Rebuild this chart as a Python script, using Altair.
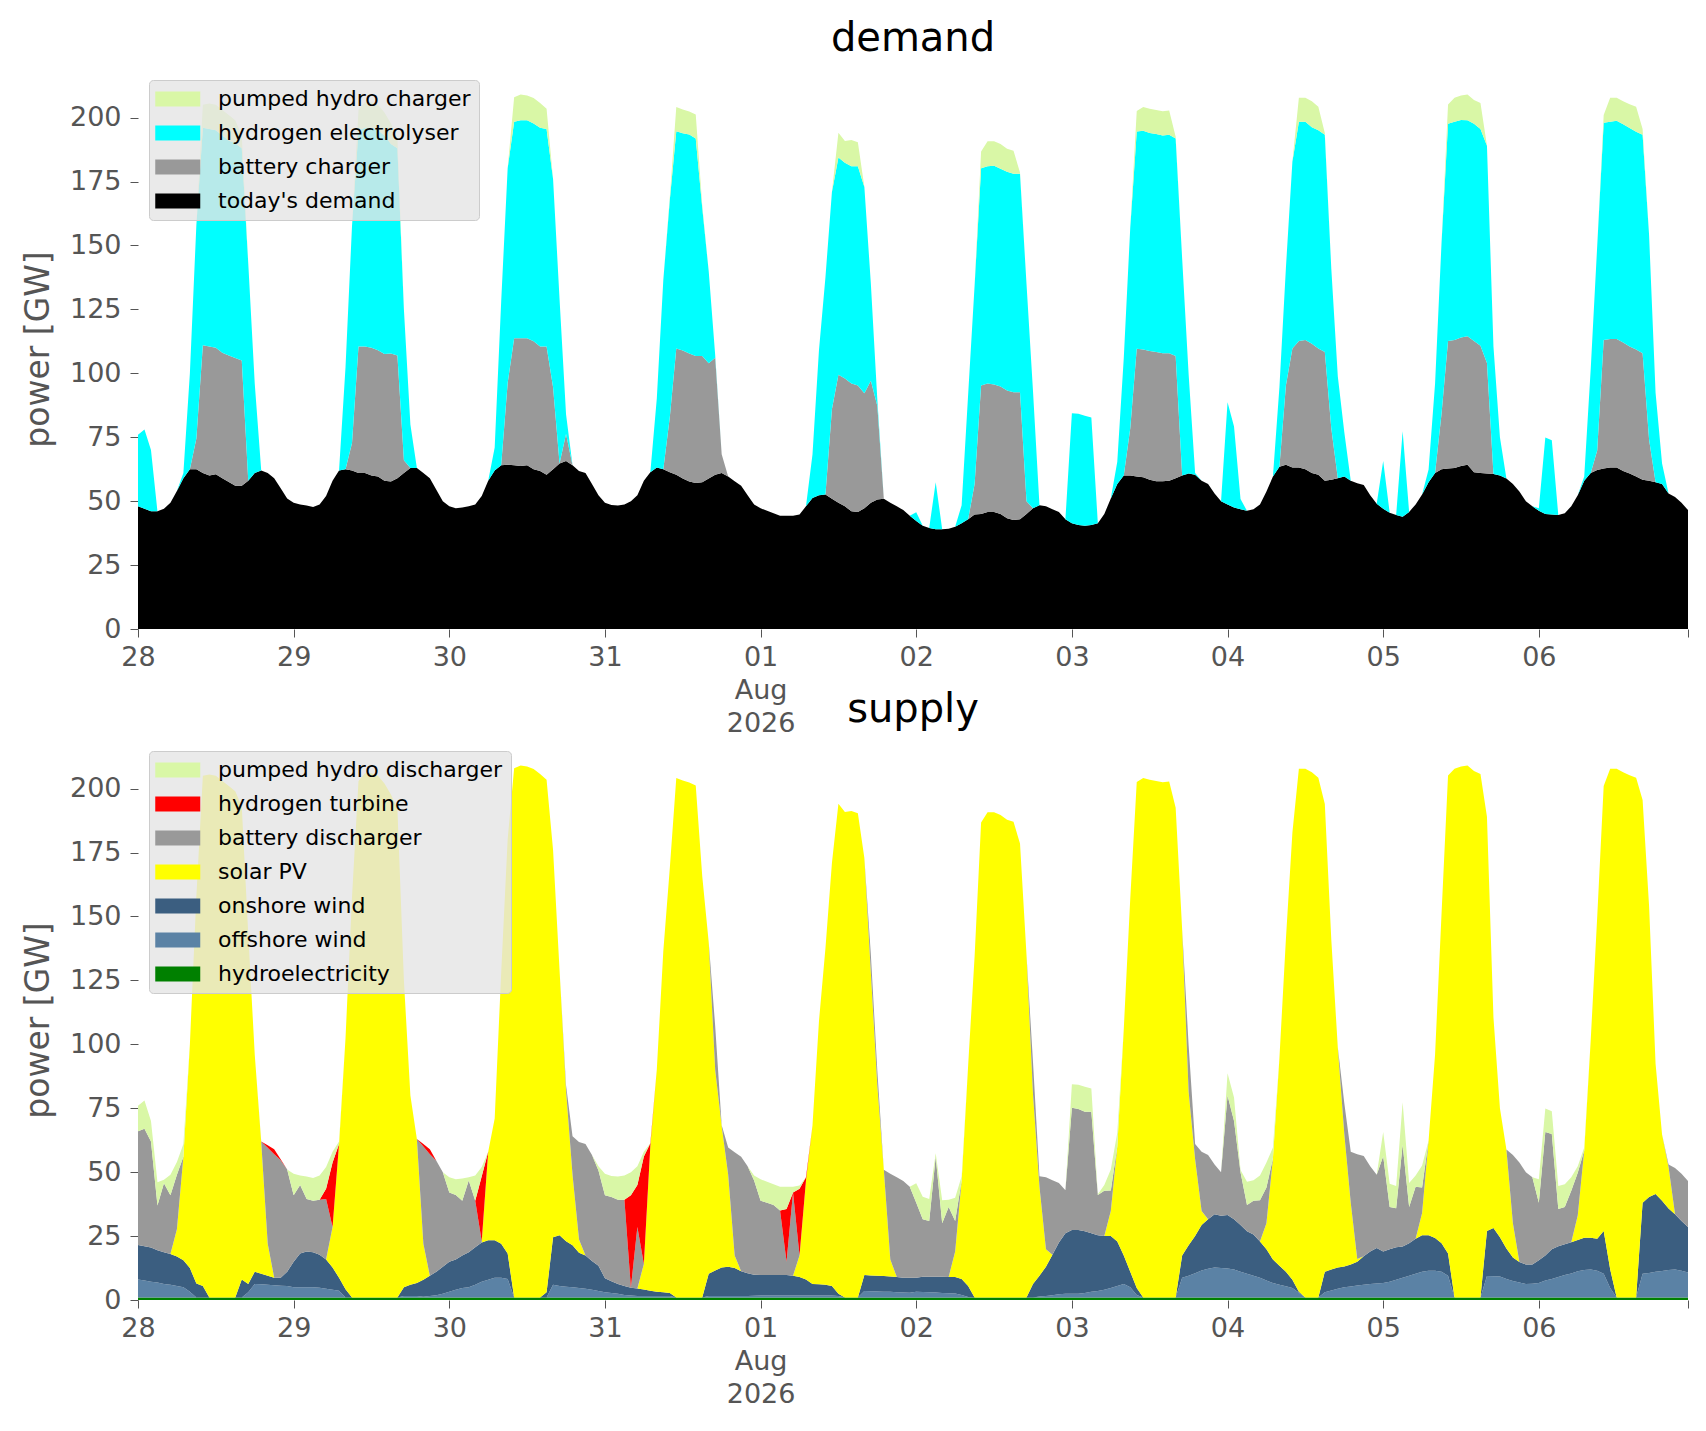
import pandas as pd
import altair as alt

days = ["2026-07-28", "2026-07-29", "2026-07-30", "2026-07-31", "2026-08-01",
        "2026-08-02", "2026-08-03", "2026-08-04", "2026-08-05", "2026-08-06"]

# ---- demand side [GW], one list of 24 hourly values per day
todays_demand = [
    [48, 47, 46, 46, 47, 49.4, 54, 59, 62.5, 62.5, 61, 60, 60.5, 59, 57.5, 56, 56, 58, 61, 62, 61, 59, 55, 51],
    [49.4, 48.7, 48.3, 47.7, 48.7, 52, 58, 62, 62.5, 62, 61, 61, 60, 59.6, 58, 57.7, 59, 61, 63, 63, 61, 59, 54.5, 50],
    [48, 47.2, 47.5, 48, 48.7, 52, 58, 62, 64, 64.2, 64, 63.7, 64, 62.5, 61.8, 60.3, 62.5, 64.7, 65.7, 64, 61.8, 61, 56.7, 52.3],
    [49.4, 48.5, 48.3, 48.7, 50, 52.3, 58, 61.3, 63.2, 62.5, 61.3, 60.3, 58.9, 57.7, 57.1, 57.4, 58.9, 60.3, 61, 59.6, 57.8, 56, 52.3, 48.7],
    [47.2, 46.2, 45.3, 44.3, 44.3, 44.3, 44.8, 48, 51.2, 52.3, 52.6, 50.9, 49.4, 48, 46, 45.8, 47.2, 49.4, 50.6, 50.9, 49.4, 48, 46.5, 44.3],
    [42.2, 40.4, 39.5, 39, 39, 39.2, 40, 41.4, 42.9, 44.8, 45, 45.8, 45.8, 45, 43.3, 42.6, 42.9, 45, 47.2, 48.4, 48, 46.8, 45.8, 42.9],
    [41.4, 40.7, 40.4, 40.7, 41.4, 45, 51, 56.7, 60, 60, 59.6, 59.3, 58.4, 57.8, 57.8, 58, 59, 60, 60.8, 60.3, 58, 56.7, 53, 50],
    [48.7, 47.5, 46.8, 46.2, 46.8, 48.7, 53.8, 59.6, 63.5, 64.2, 63.2, 63.2, 62.5, 61, 60.3, 58, 58.4, 59, 59.6, 58, 57, 56.3, 52.3, 49],
    [47, 45.5, 44.6, 43.9, 45.8, 48.7, 52.6, 57.4, 61, 62.5, 62.8, 63, 63.7, 64.2, 61.3, 61, 60.8, 60.6, 60, 58.9, 56.7, 53.8, 50, 48],
    [46.2, 45, 44.8, 44.6, 45.3, 48, 52.3, 58, 61, 62.2, 62.8, 63.2, 63.2, 61.8, 60.8, 59.6, 58.4, 58, 57.4, 56.7, 53, 51.6, 49.4, 46.5],
]
battery_charger = [
    [0, 0, 0, 0, 0, 0, 0, 0, 0, 12, 50, 50.5, 49.5, 49, 49.5, 50, 49, 0, 0, 0, 0, 0, 0, 0],
    [0, 0, 0, 0, 0, 0, 0, 0, 0, 10.7, 49.5, 49.5, 50, 49.4, 49.5, 50, 48, 5, 0, 0, 0, 0, 0, 0],
    [0, 0, 0, 0, 0, 0, 0, 0, 0, 32, 49.7, 50, 49.7, 50, 48.7, 50.2, 32, 0, 10.6, 0, 0, 0, 0, 0],
    [0, 0, 0, 0, 0, 0, 0, 0, 0, 0, 21.5, 49.4, 50, 50, 49.7, 49.4, 45, 45.8, 7.3, 0, 0, 0, 0, 0],
    [0, 0, 0, 0, 0, 0, 0, 0, 0, 0, 0, 35, 50, 50, 50, 49.4, 45, 47.7, 36.6, 0, 0, 0, 0, 0],
    [0, 0, 0, 0, 0, 0, 0, 0, 0, 11.9, 50.2, 50.2, 49.8, 49.8, 50, 50, 49.7, 5, 0, 0, 0, 0, 0, 0],
    [0, 0, 0, 0, 0, 0, 0, 0, 0, 18.5, 50, 50, 50.3, 50.5, 50, 49.8, 47.8, 0, 0, 0, 0, 0, 0, 0],
    [0, 0, 0, 0, 0, 0, 0, 0, 0, 31, 46.5, 49.4, 50.5, 50.6, 49.4, 50.3, 20, 0, 0, 0, 0, 0, 0, 0],
    [0, 0, 0, 0, 0, 0, 0, 0, 0, 21.8, 49.8, 50, 50.3, 50.3, 51.3, 49.8, 43.2, 0, 0, 0, 0, 0, 0, 0],
    [0, 0, 0, 0, 0, 0, 0, 0, 0, 7.6, 50.2, 50.2, 50.2, 50.2, 49.7, 49.7, 49.4, 16, 0, 0, 0, 0, 0, 0],
]
hydrogen_electrolyser = [
    [28, 31, 24, 0, 0, 0, 0, 2, 37.5, 83.5, 85, 85, 85, 85, 84, 84, 83, 85, 35, 0, 0, 0, 0, 0],
    [0, 0, 0, 0, 0, 0, 0, 0, 40, 85, 84.5, 85.5, 86, 86, 85.5, 82, 81, 59, 17, 0, 0, 0, 0, 0],
    [0, 0, 0, 0, 0, 0, 0, 9, 64, 84, 84.7, 85.3, 85.3, 85.2, 85.5, 85, 81.5, 64.3, 7.7, 0, 0, 0, 0, 0],
    [0, 0, 0, 0, 0, 0, 0, 0, 27, 74, 85, 85, 85, 85.7, 85, 58, 36, 1, 0, 0, 0, 0, 0, 0],
    [0, 0, 0, 0, 0, 0, 0, 0, 17, 56.7, 85, 85, 85, 84.3, 85, 85.8, 80.7, 38, 2.5, 0, 0, 0, 0, 0],
    [3.5, 0, 0, 18.4, 0, 0, 0, 7, 48.7, 77.7, 85, 85, 85.6, 85.2, 85.5, 85.4, 85.4, 85, 46, 0, 0, 0, 0, 0],
    [43, 43.5, 43, 42, 0, 0, 0, 8.7, 46, 78.5, 85, 85.6, 85.3, 85.3, 85.2, 85.5, 85, 85, 38.8, 0.7, 0, 0, 0, 0],
    [40, 31.7, 4, 0, 0, 0, 0, 0, 31, 46, 73, 85.8, 85.4, 84.6, 85.3, 85, 62.5, 39.8, 17.4, 0, 0, 0, 0, 0],
    [18.7, 0, 0, 33.4, 0, 0, 0, 5, 35, 66.9, 85, 85.4, 85.1, 84.5, 85, 84.7, 85, 50, 15, 0, 0, 0, 0, 0],
    [1, 29.9, 29, 0, 0, 0, 0, 1.6, 40.7, 80, 85, 85, 85.4, 85.4, 85.4, 85.2, 85.5, 80, 35, 8, 0, 0, 0, 0],
]
pumped_hydro_charger = [
    [0, 0, 0, 0, 0, 0, 0, 0, 0, 0, 9, 10, 10, 10, 10, 9, 5, 0, 0, 0, 0, 0, 0, 0],
    [0, 0, 0, 0, 0, 0, 0, 0, 0, 0, 8, 10, 10, 10, 9, 8, 4, 0, 0, 0, 0, 0, 0, 0],
    [0, 0, 0, 0, 0, 0, 0, 0, 0, 0, 9.6, 10, 9.6, 10, 9.7, 8, 0, 0, 0, 0, 0, 0, 0, 0],
    [0, 0, 0, 0, 0, 0, 0, 0, 0, 0, 1, 9.4, 9.3, 9, 9.4, 1, 0, 0, 0, 0, 0, 0, 0, 0],
    [0, 0, 0, 0, 0, 0, 0, 0, 0, 0, 0, 0, 9.7, 8.5, 10.2, 9.4, 0, 0, 0, 0, 0, 0, 0, 0],
    [0, 0, 0, 0, 0, 0, 0, 0, 0, 0, 6.5, 9.7, 9.5, 9.7, 9, 9, 0.5, 0, 0, 0, 0, 0, 0, 0],
    [0, 0, 0, 0, 0, 0, 0, 0, 0, 0, 8, 9.2, 9.5, 9.4, 9.5, 9.5, 0.7, 0, 0, 0, 0, 0, 0, 0],
    [0, 0, 0, 0, 0, 0, 0, 0, 0, 0, 0, 9.4, 9.4, 10.2, 9.2, 0.7, 0, 0, 0, 0, 0, 0, 0, 0],
    [0, 0, 0, 0, 0, 0, 0, 0, 0, 0, 7.5, 9.4, 9.5, 10, 9.3, 10.2, 0, 0, 0, 0, 0, 0, 0, 0],
    [0, 0, 0, 0, 0, 0, 0, 0, 0, 0, 3, 9.4, 9, 9, 9.3, 9.7, 2.2, 0, 0, 0, 0, 0, 0, 0],
]

# ---- supply side [GW]
hydroelectricity = [
    [1, 1, 1, 1, 1, 1, 1, 1, 1, 1, 1, 1, 1, 1, 1, 1, 1, 1, 1, 1, 1, 1, 1, 1],
    [1, 1, 1, 1, 1, 1, 1, 1, 1, 1, 1, 1, 1, 1, 1, 1, 1, 1, 1, 1, 1, 1, 1, 1],
    [1, 1, 1, 1, 1, 1, 1, 1, 1, 1, 1, 1, 1, 1, 1, 1, 1, 1, 1, 1, 1, 1, 1, 1],
    [1, 1, 1, 1, 1, 1, 1, 1, 1, 1, 1, 1, 1, 1, 1, 1, 1, 1, 1, 1, 1, 1, 1, 1],
    [1, 1, 1, 1, 1, 1, 1, 1, 1, 1, 1, 1, 1, 1, 1, 1, 1, 1, 1, 1, 1, 1, 1, 1],
    [1, 1, 1, 1, 1, 1, 1, 1, 1, 1, 1, 1, 1, 1, 1, 1, 1, 1, 1, 1, 1, 1, 1, 1],
    [1, 1, 1, 1, 1, 1, 1, 1, 1, 1, 1, 1, 1, 1, 1, 1, 1, 1, 1, 1, 1, 1, 1, 1],
    [1, 1, 1, 1, 1, 1, 1, 1, 1, 1, 1, 1, 1, 1, 1, 1, 1, 1, 1, 1, 1, 1, 1, 1],
    [1, 1, 1, 1, 1, 1, 1, 1, 1, 1, 1, 1, 1, 1, 1, 1, 1, 1, 1, 1, 1, 1, 1, 1],
    [1, 1, 1, 1, 1, 1, 1, 1, 1, 1, 1, 1, 1, 1, 1, 1, 1, 1, 1, 1, 1, 1, 1, 1],
]
offshore_wind = [
    [7, 6.6, 6.1, 5.8, 5.3, 5, 4.5, 4, 2.2, 0, 0, 0, 0, 0, 0, 0, 0, 2, 5.3, 5.2, 5, 4.8, 4.6, 4.5],
    [4, 4, 4, 4, 3.8, 3.4, 3, 2.6, 0, 0, 0, 0, 0, 0, 0, 0, 0, 0.6, 0.6, 0.6, 0.3, 0.6, 0.9, 1.4],
    [2.2, 3, 3.7, 4, 5, 6.1, 6.9, 7.7, 7.7, 7.2, 0, 0, 0, 0, 0, 0, 5, 4.5, 4.2, 4, 3.7, 3.4, 3, 2.5],
    [2, 1.7, 1.4, 1, 0.8, 0.6, 0.6, 0.6, 0.6, 0.6, 0.6, 0, 0, 0, 0, 0, 0.6, 0.6, 0.6, 0.6, 0.6, 0.6, 0.6, 0.7],
    [0.8, 0.8, 0.8, 0.8, 0.8, 0.8, 0.8, 0.8, 0.8, 0.8, 0.8, 0.8, 0.6, 0, 0, 0, 2.5, 2.4, 2.3, 2.2, 2.2, 2, 1.9, 1.8],
    [2.2, 2.1, 2, 1.9, 1.7, 1.6, 1.5, 1, 0.2, 0, 0, 0, 0, 0, 0, 0, 0, 0, 0, 0.4, 0.6, 0.9, 1.2, 1.4],
    [1.4, 1.4, 1.7, 2.2, 2.5, 3, 3.7, 4.5, 5.3, 4, 1, 0, 0, 0, 0, 0, 0, 7.7, 8.5, 9.5, 10.5, 11.2, 11.7, 11.5],
    [11.3, 10.9, 10, 9.3, 8.5, 7.7, 6.6, 5.6, 5, 4.4, 3.7, 1.8, 0, 0, 0, 2, 2.7, 3.4, 4, 4.3, 4.7, 5, 5.3, 5.5],
    [5.6, 6.1, 6.9, 7.7, 8.5, 9.3, 10, 10.4, 10.4, 10, 8.5, 0, 0, 0, 0, 0, 8.4, 8.3, 8.2, 7.2, 6.4, 5.8, 5.3, 5.4],
    [5.6, 6.6, 7.2, 8, 8.8, 9.4, 10.2, 10.7, 10.9, 10.4, 9.3, 3.7, 0, 0, 0, 0, 9.3, 9.6, 10, 10.3, 10.7, 10.9, 10.4, 9.8],
]
onshore_wind = [
    [13.5, 13.4, 13.4, 12.7, 12.4, 12, 11.5, 10.5, 9.3, 5.5, 4.5, 0, 0, 0, 0, 0, 7, 3.3, 4.7, 4.1, 3.5, 2.9, 3.1, 5.5],
    [10, 13.2, 14, 13.7, 12.9, 11.4, 8.7, 5.1, 3.2, 0, 0, 0, 0, 0, 0, 0, 0, 3.4, 4.4, 5, 6.6, 7.9, 9.1, 10.6],
    [11.8, 11.8, 12.7, 13.7, 14.6, 15.4, 15.5, 14.7, 13.3, 10, 0, 0, 0, 0, 0, 2, 18.5, 19.8, 17.8, 16.4, 13.8, 13, 11.3, 9.9],
    [5.5, 4.6, 3.9, 3.5, 3, 2.9, 2.5, 2, 1.6, 1.4, 1.1, 0, 0, 0, 0, 0, 8.7, 9.9, 11.1, 11.4, 10.9, 9.6, 8.9, 8.2],
    [8, 8, 8, 8, 8, 7.7, 7.2, 6.2, 4.5, 4.4, 4.2, 3.7, 0.8, 0, 0, 0, 6.3, 6.2, 6.2, 6.2, 6, 6, 5.8, 5.9],
    [5.5, 6, 6.1, 6.2, 6.4, 6.4, 6.5, 6.2, 4.3, 0, 0, 0, 0, 0, 0, 0, 0, 0, 5.3, 8.1, 11.4, 15.8, 20.3, 23.7],
    [25, 25, 24.2, 22.9, 21.8, 21, 20.3, 17.4, 11.1, 6, 2.7, 0, 0, 0, 0, 0, 0, 8.7, 11.9, 14.5, 17.8, 19.4, 20.8, 20.4],
    [20.9, 19.7, 18.3, 16.6, 16.1, 14.2, 12.2, 9.2, 7.4, 5.6, 3.2, 0.4, 0, 0, 0, 8, 8.2, 8.3, 8.1, 8.6, 9.3, 11.1, 12.7, 13.8],
    [12.4, 12.7, 12.7, 12.2, 12.7, 13.7, 14.3, 13.9, 12.8, 11.2, 8.7, 0, 0, 0, 0, 0, 17.6, 18.9, 15.3, 11.9, 9.2, 8.1, 7.6, 7.5],
    [8.9, 9.8, 11.6, 12, 12, 12.2, 12.3, 12.6, 12.4, 12.6, 16.7, 7.3, 0, 0, 0, 0, 27.7, 29.7, 30.5, 27.5, 24.1, 21.6, 19.5, 17.7],
]
solar_pv = [
    [0, 0, 0, 0, 0, 0, 10.7, 40.5, 87.5, 151.5, 199.5, 204.5, 204, 202, 200, 198, 185, 136.7, 85, 51.4, 12.5, 0, 0, 0],
    [0, 0, 0, 0, 0, 0, 15.8, 52.3, 98.3, 156.7, 202, 205, 205, 204, 201, 196.7, 191, 120, 74, 56.4, 14.1, 0, 0, 0],
    [0, 0, 0, 0, 0, 0, 34.6, 47.6, 106, 162, 207, 208, 207.6, 206.7, 204.7, 200.5, 151.5, 103.7, 59, 27.6, 5.2, 0, 0, 0],
    [0, 0, 0, 0, 0, 0, 10, 56.7, 87, 133.5, 166.1, 203.1, 202.2, 201.4, 200.2, 164.8, 129.6, 78.5, 55.3, 36, 4.9, 0, 0, 0],
    [0, 0, 0, 0, 0, 0, 8.4, 38.7, 61.9, 102.8, 131.6, 165.4, 191.7, 189.8, 190.2, 189.4, 163.1, 118.5, 74.5, 41.5, 6.6, 0, 0, 0],
    [0, 0, 0, 0, 0, 0, 10, 38.5, 86.1, 133.4, 185.7, 189.7, 189.7, 188.7, 186.8, 186, 177.5, 134, 74.4, 34.8, 6.8, 0, 0, 0],
    [0, 0, 0, 0, 0, 0, 9.8, 37.1, 88.6, 146, 197.9, 203.1, 202.5, 202, 201.5, 201.8, 191.5, 127.6, 60, 30, 5.5, 0, 0, 0],
    [0, 0, 0, 0, 0, 0, 10.2, 39.6, 81.1, 130.2, 174.8, 204.6, 206.8, 205.4, 203.2, 183, 129, 86.1, 51.9, 24, 1, 0, 0, 0],
    [0, 0, 0, 0, 0, 0, 8.7, 37.1, 71.8, 129, 186.9, 206.8, 207.6, 208, 205.9, 204.7, 162, 82.4, 50.5, 38.8, 13.4, 0, 0, 0],
    [0, 0, 0, 0, 0, 0, 9.5, 34.2, 77.4, 125.8, 174, 195.8, 206.8, 205.4, 204.2, 203.2, 157.5, 113.7, 50.9, 25.9, 16.2, 0, 0, 0],
]
battery_discharger = [
    [44.5, 46, 41.5, 17.5, 27, 23, 21.3, 0, 0, 0, 0, 0, 0, 0, 0, 0, 0, 0, 0, 0.3, 37.5, 48.3, 46, 40],
    [26, 26.8, 20.5, 20.1, 21.5, 23.7, 0, 0, 0, 0, 0, 0, 0, 0, 0, 0, 0, 0, 0, 0, 38, 47.5, 43.5, 37],
    [27, 25.3, 21.4, 28, 18.2, 0.5, 0, 0, 0, 0, 0, 0, 0, 0, 0, 0, 0, 0, 2, 15, 38.1, 43.6, 41.4, 37.2],
    [32.5, 33, 32.9, 33.7, 0, 24, 0, 0, 0, 0, 0, 0, 0, 0, 0, 0, 0, 17.1, 0.3, 10.6, 40.4, 44.8, 41.8, 36.8],
    [29, 28.2, 27.4, 25.2, 5.2, 32.5, 0, 0, 0, 0, 0, 0, 0, 0, 0, 0, 0, 7, 5.7, 0, 33.6, 39, 37.8, 35.6],
    [29.3, 22.5, 21.8, 46.9, 20.9, 27.4, 11.9, 0, 0, 0, 0, 0, 0, 0, 0, 0, 0, 0, 12.5, 4.1, 28.2, 29.1, 23.3, 16.8],
    [47.8, 47.3, 46.7, 47.5, 15.8, 17.7, 8, 0, 0, 0, 0, 0, 0, 0, 0, 0, 0, 0, 18.2, 6, 23.2, 25.1, 19.5, 17.1],
    [46.8, 38.4, 20.7, 10.3, 13.2, 16.1, 14, 0, 0, 0, 0, 0, 0, 0, 0, 0, 0, 0, 12, 20.1, 41, 39.2, 33.3, 28.7],
    [37.2, 16.6, 15.3, 39.8, 14.2, 20.3, 10, 0, 0, 0, 0, 0, 0, 0, 0, 0, 0, 0, 0, 0, 26.7, 38.9, 36.1, 34.1],
    [22.5, 48.3, 45.1, 14.6, 14.6, 20.1, 16.8, 0, 0, 0, 0, 0, 0, 0, 0, 0, 0, 0, 0, 0, 1, 18.1, 18.5, 18],
]
hydrogen_turbine = [
    [0, 0, 0, 0, 0, 0, 0, 0, 0, 0, 0, 0, 0, 0, 0, 0, 0, 0, 0, 0, 1, 2, 0.3, 0],
    [0, 0, 0, 0, 0, 4, 25.3, 0, 0, 0, 0, 0, 0, 0, 0, 0, 0, 0, 0, 0, 1, 2, 0, 0],
    [0, 0, 0, 0, 0, 25.4, 0, 0, 0, 0, 0, 0, 0, 0, 0, 0, 0, 0, 0, 0, 0, 0, 0, 0],
    [0, 0, 0, 0, 36.2, 16.5, 42, 1, 0, 0, 0, 0, 0, 0, 0, 0, 0, 0, 0, 0, 0, 0, 0, 0],
    [0, 0, 0, 0, 20.6, 0, 26.1, 1.3, 0, 0, 0, 0, 0, 0, 0, 0, 0, 0, 0, 0, 0, 0, 0, 0],
    [0, 0, 0, 0, 0, 0, 0, 0, 0, 0, 0, 0, 0, 0, 0, 0, 0, 0, 0, 0, 0, 0, 0, 0],
    [0, 0, 0, 0, 0, 0, 0, 0, 0, 0, 0, 0, 0, 0, 0, 0, 0, 0, 0, 0, 0, 0, 0, 0],
    [0, 0, 0, 0, 0, 0, 0, 0, 0, 0, 0, 0, 0, 0, 0, 0, 0, 0, 0, 0, 0, 0, 0, 0],
    [0, 0, 0, 0, 0, 0, 0, 0, 0, 0, 0, 0, 0, 0, 0, 0, 0, 0, 0, 0, 0, 0, 0, 0],
    [0, 0, 0, 0, 0, 0, 0, 0, 0, 0, 0, 0, 0, 0, 0, 0, 0, 0, 0, 0, 0, 0, 0, 0],
]
pumped_hydro_discharger = [
    [10, 11, 8, 9, 1.3, 8, 5, 5, 0, 0, 0, 0, 0, 0, 0, 0, 0, 0, 0, 0, 0, 0, 0, 0],
    [8.4, 3.7, 8.8, 8.9, 9.5, 8.5, 4.2, 1, 0, 0, 0, 0, 0, 0, 0, 0, 0, 0, 0, 0, 0, 0, 0, 0],
    [6, 6.1, 8.7, 1.3, 9.9, 3.6, 0, 0, 0, 0, 0, 0, 0, 0, 0, 0, 0, 0, 0, 0, 0, 0, 0, 1.7],
    [8.4, 8.2, 9.1, 9.5, 9, 7.3, 1.9, 0, 0, 0, 0, 0, 0, 0, 0, 0, 0, 0, 0, 0, 0, 0, 0, 2],
    [8.4, 8.2, 8.1, 9.3, 8.7, 2.3, 1.3, 0, 0, 0, 0, 0, 0, 0, 0, 0, 0, 0, 0, 0, 0, 0, 0, 0],
    [7.7, 8.8, 8.6, 1.4, 9, 2.8, 9.1, 1.7, 0, 0, 0, 0, 0, 0, 0, 0, 0, 0, 0, 0, 0, 0, 0, 0],
    [9.2, 9.5, 9.8, 9.1, 0.3, 2.3, 8.2, 5.4, 0, 0, 0, 0, 0, 0, 0, 0, 0, 0, 0, 0, 0, 0, 0, 0],
    [8.7, 9.2, 0.8, 9, 8, 9.7, 9.8, 4.2, 0, 0, 0, 0, 0, 0, 0, 0, 0, 0, 0, 0, 0, 0, 0, 0],
    [9.5, 9.1, 8.7, 16.6, 9.4, 4.4, 8.6, 0, 0, 0, 0, 0, 0, 0, 0, 0, 0, 0, 0, 0, 0, 0, 0, 0],
    [9.2, 9.2, 8.9, 9, 8.9, 5.3, 2.5, 1.1, 0, 0, 0, 0, 0, 0, 0, 0, 0, 0, 0, 0, 0, 0, 0, 0],
]

# stack order bottom -> top, with colours
demand_series = [
    ("today's demand", todays_demand, "#000000"),
    ("battery charger", battery_charger, "#999999"),
    ("hydrogen electrolyser", hydrogen_electrolyser, "#00ffff"),
    ("pumped hydro charger", pumped_hydro_charger, "#d9f7a6"),
]
supply_series = [
    ("hydroelectricity", hydroelectricity, "#008000"),
    ("offshore wind", offshore_wind, "#5b82a5"),
    ("onshore wind", onshore_wind, "#3b5e80"),
    ("solar PV", solar_pv, "#ffff00"),
    ("battery discharger", battery_discharger, "#999999"),
    ("hydrogen turbine", hydrogen_turbine, "#ff0000"),
    ("pumped hydro discharger", pumped_hydro_discharger, "#d9f7a6"),
]


def to_long(series):
    rows = []
    for k, (name, per_day, _) in enumerate(series):
        for day, values in zip(days, per_day):
            for h, v in enumerate(values):
                rows.append({"time": f"{day}T{h:02d}:00:00", "tech": name, "GW": v, "k": k})
    return pd.DataFrame(rows)


t0 = alt.DateTime(year=2026, month=7, date=28)
t1 = alt.DateTime(year=2026, month=8, date=6, hours=23)
day_ticks = [alt.DateTime(year=2026, month=7, date=d) for d in (28, 29, 30, 31)]
day_ticks += [alt.DateTime(year=2026, month=8, date=d) for d in range(1, 7)]
day_ticks += [t1]

grey = "#555555"
x_axis = alt.Axis(
    values=day_ticks, title=None, grid=False, domain=False,
    labelExpr="hours(datum.value) == 23 ? '' : (date(datum.value) == 1 ? "
              "[timeFormat(datum.value, '%d'), 'Aug', '2026'] : timeFormat(datum.value, '%d'))",
    labelFontSize=27, labelColor=grey, labelLineHeight=33, labelFlush=False, labelOverlap=False,
    tickColor=grey, tickSize=8, labelPadding=7,
)
y_axis = alt.Axis(
    values=[0, 25, 50, 75, 100, 125, 150, 175, 200], grid=False, domain=False,
    labelFontSize=27, labelColor=grey, tickColor=grey, tickSize=8, labelPadding=9,
    title="power [GW]", titleFontSize=33, titleColor=grey, titleFontWeight="normal", titlePadding=14,
)


def panel(series, title):
    names = [s[0] for s in series][::-1]
    colours = [s[2] for s in series][::-1]
    # wide flat patch: nominal size 15px, path drawn 45 x 15 around its anchor
    legend = alt.Legend(
        title=None, orient="top-left", offset=11, padding=8,
        fillColor="rgba(229,229,229,0.8)", strokeColor="#cccccc", cornerRadius=4,
        labelFontSize=22, labelColor="black", labelOffset=39, labelLimit=600, rowPadding=12,
        symbolType="M-1.7,-1H4.3V1H-1.7Z", symbolSize=225, symbolStrokeWidth=0, symbolOpacity=1,
    )
    return alt.Chart(
        to_long(series),
        title=alt.TitleParams(title, fontSize=40, fontWeight="normal", color="black", offset=10, anchor="middle"),
    ).mark_area().encode(
        x=alt.X("time:T", scale=alt.Scale(domain=[t0, t1], nice=False), axis=x_axis),
        y=alt.Y("GW:Q", stack="zero", scale=alt.Scale(domain=[0, 219], nice=False), axis=y_axis),
        color=alt.Color("tech:N", scale=alt.Scale(domain=names, range=colours), legend=legend),
        order=alt.Order("k:Q", sort="ascending"),
    ).properties(width=1550, height=560)


chart = alt.vconcat(
    panel(demand_series, "demand"),
    panel(supply_series, "supply"),
    spacing=111, bounds="flush",
).resolve_scale(color="independent").resolve_legend(color="independent")

chart = chart.properties(
    padding={"left": 13, "top": 10, "right": 5, "bottom": 5}
).configure(font="DejaVu Sans", background="white").configure_view(stroke="transparent")

chart.save("out.html", embed_options={"renderer": "svg", "actions": False})
